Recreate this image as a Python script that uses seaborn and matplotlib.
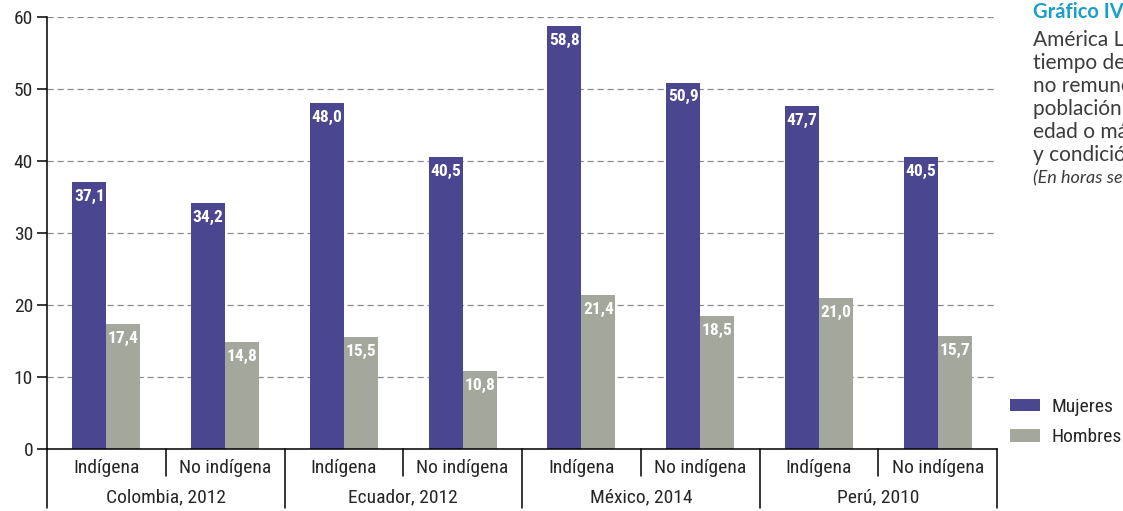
# -*- coding: utf-8 -*-
# Tiempo de trabajo no remunerado por sexo y condición étnica

import pandas as pd
import matplotlib
matplotlib.use("Agg")
import matplotlib.pyplot as plt
from matplotlib.patches import Patch
from matplotlib import font_manager
import seaborn as sns

# ------------------------
# data
# ------------------------
paises = ["Colombia, 2012", "Ecuador, 2012", "México, 2014", "Perú, 2010"]
condicion = ["Indígena", "No indígena"]
sexos = ["Mujeres", "Hombres"]
mujeres = [37.1, 34.2, 48.0, 40.5, 58.8, 50.9, 47.7, 40.5]
hombres = [17.4, 14.8, 15.5, 10.8, 21.4, 18.5, 21.0, 15.7]
colores = ["#4a4690", "#a4a89c"]

titulo = "Gráfico IV.5"
lineas = ["América Latina (4 países):", "tiempo de trabajo", "no remunerado de la",
          "población de 15 años de", "edad o más, según sexo", "y condición étnica"]
unidad = "(En horas semanales)"

cats = [p + "|" + c for p in paises for c in condicion]
df = pd.DataFrame({
    "cat": cats * 2,
    "sexo": [sexos[0]] * len(cats) + [sexos[1]] * len(cats),
    "horas": mujeres + hombres,
})

# ------------------------
# plot
# ------------------------
sns.set_style("white")
names = {f.name for f in font_manager.fontManager.ttflist}
narrow = [n for n in ["Liberation Sans Narrow", "Roboto Condensed", "Roboto"] if n in names]
plt.rcParams["font.family"] = narrow + ["DejaVu Sans"]

fig = plt.figure(figsize=(11.23, 5.11), dpi=100)
ax = fig.add_axes([47 / 1123, 62 / 511, 950 / 1123, 432 / 511])

sns.barplot(data=df, x="cat", y="horas", hue="sexo", hue_order=sexos,
            palette=colores, width=0.573, gap=0, saturation=1,
            errorbar=None, legend=False, linewidth=0, ax=ax)

ax.set_xlim(-0.5, len(cats) - 0.5)
ax.set_ylim(0, 60)
ax.set_yticks(range(0, 61, 10))
ax.set_xticks([])
ax.set_xlabel("")
ax.set_ylabel("")
ax.yaxis.grid(True, linestyle=(0, (5, 3)), color="#8a8a8a", lw=0.9)
ax.set_axisbelow(True)
for s in ["top", "right"]:
    ax.spines[s].set_visible(False)
for s in ["left", "bottom"]:
    ax.spines[s].set_color("black")
    ax.spines[s].set_linewidth(1.1)
ax.tick_params(axis="y", left=True, length=7, width=1.1, color="black",
               labelsize=14, pad=3)

# data labels
for cont in ax.containers:
    for bar in cont:
        h = bar.get_height()
        ax.annotate(f"{h:.1f}".replace(".", ","),
                    (bar.get_x() + bar.get_width() / 2, h),
                    xytext=(0, -5), textcoords="offset points",
                    ha="center", va="top", color="white",
                    fontsize=12.5, fontweight="bold")

# two-level category axis
tr = ax.get_xaxis_transform()
for k in range(len(cats) + 1):
    x = k - 0.5
    depth = -0.137 if k % 2 == 0 else -0.062
    ax.plot([x, x], [0, depth], color="black", lw=1.1, transform=tr, clip_on=False)
for i, c in enumerate(cats):
    ax.text(i, -0.044, c.split("|")[1], transform=tr, ha="center", va="center", fontsize=14)
for j, p in enumerate(paises):
    ax.text(2 * j + 0.5, -0.113, p, transform=tr, ha="center", va="center", fontsize=14)

# legend
handles = [Patch(facecolor=c, edgecolor="none") for c in colores]
fig.legend(handles, sexos, loc="upper left", bbox_to_anchor=(1010 / 1123, 1 - 398 / 511),
           frameon=False, fontsize=14, handlelength=1.55, handleheight=0.62,
           handletextpad=0.6, labelspacing=0.62, borderpad=0, borderaxespad=0)

# side title (cut off by the figure edge as in the source)
fig.text(1033 / 1123, 1 - 12 / 511, titulo, color="#1aa0c8", fontweight="bold",
         fontsize=14.5, va="center", family=["Lato", "DejaVu Sans"])
for i, t in enumerate(lineas):
    fig.text(1033 / 1123, 1 - (40 + 23 * i) / 511, t, color="#3c3c3c",
             fontsize=15, va="center", family=["Lato", "DejaVu Sans"])
fig.text(1033 / 1123, 1 - 178 / 511, unidad, color="#3c3c3c", style="italic",
         fontsize=13, va="center", family=["Lato", "DejaVu Sans"])

fig.savefig("out.png", dpi=100)
